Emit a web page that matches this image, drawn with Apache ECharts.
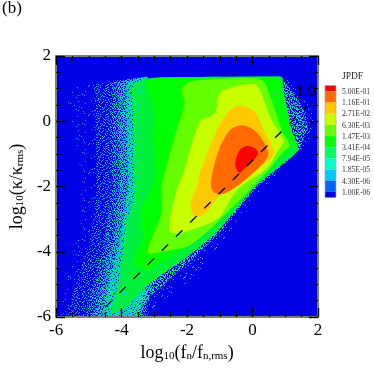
<!DOCTYPE html>
<html><head><meta charset="utf-8">
<style>html,body{margin:0;padding:0;background:#fff}#c{width:374px;height:374px}</style>
<script src="https://cdn.jsdelivr.net/npm/echarts@6/dist/echarts.min.js"></script></head>
<body><div id="c"></div>
<script>
const legendTitle='JPDF';
const legendLabels=['5.00E-01','1.16E-01','2.71E-02','6.30E-03','1.47E-03','3.41E-04','7.94E-05','1.85E-05','4.30E-06','1.00E-06'];
const legendColors=['#ff0000','#ff6a00','#ffc800','#c8ff00','#64ff00','#00ff00','#00ff64','#00ffc8','#00c8ff','#0064ff','#0000e6'];
const band1=[[-5.7,1.0],[-4.8,1.2],[-3.9,1.3],[-3.2,1.37],[-3,-1],[-3,-4],[-3.1,-6],[-5.95,-6],[-5.6,-4.6],[-5.2,-3],[-5.3,-1],[-5.6,0.4]];
const band2=[[-4.85,1.12],[-3.9,1.3],[-3.2,1.37],[-3,-1],[-3,-4],[-3.2,-6],[-5.7,-6],[-5.4,-5],[-4.95,-3.6],[-4.75,-2],[-4.8,0]];
const band3=[[-4.3,1.2],[-3.6,1.3],[-3.2,1.37],[-3,-1],[-3,-4],[-3.3,-6],[-5.1,-6],[-4.85,-5],[-4.5,-3.6],[-4.3,-2],[-4.35,0]];
const band4=[[-4.1,1.22],[-3.6,1.32],[-3.2,1.37],[-3,-1],[-3,-4],[-3.4,-6],[-4.85,-6],[-4.6,-5],[-4.25,-3.6],[-4.05,-2],[-4.1,0]];
const band5=[[-3.85,1.2],[-3.5,1.32],[-3.2,1.37],[-3,-1],[-3,-4],[-3.5,-6],[-4.6,-6],[-4.4,-5],[-4.05,-3.6],[-3.8,-2],[-3.85,0]];
const fringeOuter=[[0.7,1.36],[1.1,1.3],[1.45,0.9],[1.8,0.35],[1.95,-0.2],[1.6,-0.75],[1.41,-0.95],[0.07,-2.3],[-1.0,-3.9],[-1.9,-4.85],[-3.0,-5.7],[-3.4,-6],[-4,-5],[-2,0],[0,1.3]];
const fringeInner=[[0.85,1.36],[1.25,0.9],[1.55,0.4],[1.7,-0.2],[1.5,-0.7],[1.41,-0.92],[0.07,-2.08],[-1.03,-3.45],[-1.92,-4.3],[-3.1,-5.35],[-3.5,-5.85],[-4,-5],[-2,0],[0,1.3]];
const level6=[[-3.66,1.06],[-3.05,1.33],[-1.5,1.36],[0.5,1.37],[0.9,1.36],[0.95,0.9],[1.05,0.43],[1.27,-0.58],[1.41,-0.88],[0.07,-2.02],[-1.03,-3.34],[-1.92,-4.1],[-3.3,-5.1],[-3.8,-5.64],[-4.3,-5.9],[-4.1,-5.0],[-3.96,-4.05],[-3.85,-3.13],[-3.62,-2.33],[-3.62,-0.98],[-3.62,0.25]];
const band6=[[-3.66,1.06],[-3.4,1.2],[-3.42,-2],[-3.6,-3.6],[-3.8,-5.0],[-3.8,-5.64],[-4.3,-5.9],[-4.1,-5.0],[-3.96,-4.05],[-3.85,-3.13],[-3.62,-2.33],[-3.62,-0.98],[-3.62,0.25]];
const level5=[[-3.24,1.26],[-2.4,1.33],[-1,1.35],[0.68,1.36],[0.83,1.26],[0.92,0.9],[1.02,0.3],[1.2,-0.3],[1.35,-0.73],[1.05,-0.92],[0.49,-1.44],[0.07,-1.95],[-1.1,-3.13],[-2.32,-4.05],[-3.24,-4.56],[-3.66,-4.35],[-3.35,-3.64],[-3.39,-2.72],[-2.99,-1.8],[-3.05,-0.48],[-2.99,0.25]];
const level4=[[-2.17,0.96],[-1.9,1.22],[-0.69,1.32],[0.12,1.32],[0.38,1.17],[0.58,0.65],[0.93,-0.36],[1.14,-0.73],[0.9,-0.98],[0.44,-1.55],[-1.05,-3.08],[-1.92,-3.8],[-2.74,-4.0],[-3.19,-4.05],[-3.14,-3.74],[-2.78,-2.82],[-2.78,-2.11],[-2.74,-1.8],[-2.38,-0.48],[-2.07,0.55]];
const level3=[[-0.49,1.08],[0.07,1.14],[0.27,0.86],[0.55,0.1],[0.9,-0.5],[0.95,-0.63],[0.75,-0.94],[0.44,-1.44],[-0.48,-2.11],[-1.05,-2.98],[-2.22,-3.43],[-2.53,-3.39],[-2.53,-3.03],[-2.47,-2.72],[-2.31,-2.1],[-2.12,-1.6],[-1.61,-0.02],[-1.15,0.24],[-1,0.86]];
const level2=[[-0.29,0.47],[0.07,0.29],[0.37,-0.32],[0.66,-0.98],[0.44,-1.24],[-0.33,-1.74],[-0.99,-2.26],[-1.4,-2.78],[-1.76,-2.95],[-1.89,-2.51],[-1.7,-2.0],[-1.61,-1.59],[-1.0,-0.1],[-0.6,0.41]];
const level1=[[-0.34,-0.12],[0.02,-0.25],[0.27,-0.52],[0.48,-0.98],[0.37,-1.24],[-0.08,-1.68],[-0.49,-2.01],[-0.9,-2.23],[-1.2,-2.16],[-1.27,-1.85],[-1.05,-0.94],[-0.69,-0.27]];
const level0=[[-0.18,-0.76],[0.07,-0.83],[0.17,-0.98],[0.02,-1.21],[-0.24,-1.44],[-0.39,-1.58],[-0.52,-1.41],[-0.51,-1.19],[-0.39,-0.88]];
const dashLine=[[-4.5,-5.7],[1.65,0.45]];

/* hand-typed speckle texture: a digit picks which density layer paints that pixel */
const speckleTile=['3718294056273910846152739048162','9046158273640192758361047295831','2573901648175320964828157403962','6180427395908146237509372816405','1794350862341970582614603928175','5208716943067254193870241596380','8461039275819603472951786304129','0937562148450291876302915748063','7325184690926437015868040273591','4690273518103752849166529381704','1852946037768104325972840615239','6073815294239586710430197264858','9248607135054921367816375092481','3516094827681370952449268137506','8702451963125849036720543981627','2964780351497012683585916042739','5139263804736295418061704853192','0487915632981506274393628170945','7621340958240873169514095726381','4853026179563149802762831954076','1296587430819625347080473619528','9370148265042781956336195082647','6548723091375908214687260341895','2015396847694132085729854706213','8734061529108567432940316258970','3169852470526394718051687093424','5980217634873240951678042591367','0426739185469118305287593460812','7851604293230576849414726809153'];
function speckle(digits,color){
  const cv=document.createElement('canvas'); cv.width=31; cv.height=29;
  const g=cv.getContext('2d'); g.fillStyle=color;
  speckleTile.forEach((row,r)=>{ for(let c=0;c<31;c++){ if(digits.includes(row[c])&&(digits.length>1||(r+c)%3===0)) g.fillRect(c,r,1,1);} });
  return {image:cv,repeat:'repeat'};
}
const serif='"Liberation Serif","Times New Roman",serif';
const chart=echarts.init(document.getElementById('c'),null,{renderer:'canvas'});
function region(arr,fill,z,smooth){return {type:'custom',coordinateSystem:'cartesian2d',z,silent:true,clip:true,
  data:arr,encode:{x:0,y:1},
  renderItem:(p,api)=>{ if(p.dataIndex!==0) return null;
    return {type:'polygon',shape:{points:arr.map(q=>api.coord(q)),smooth:smooth||0},style:{fill}};}};}
function axis(pos,show){return {type:'value',position:pos,min:-6,max:2,interval:2,z:10,
  axisLine:{show:true,onZero:false,lineStyle:{color:'#7d7d7d',width:2}},
  axisTick:{show:true,inside:true,length:9,lineStyle:{color:'#000',width:1.4}},
  minorTick:{show:true,splitNumber:4,length:5,lineStyle:{color:'#000',width:1.2}},
  splitLine:{show:false},
  axisLabel:show?{show:true,fontFamily:serif,fontSize:17,color:'#000',margin:5,showMinLabel:true,showMaxLabel:true}:{show:false}};}
const sub={fontFamily:serif,fontSize:11,color:'#000',padding:[7,0,0,0]};
const main={fontFamily:serif,fontSize:18,color:'#000'};
const xA=axis('bottom',true); Object.assign(xA,{name:'{m|log}{s|10}{m|(f}{s|n}{m|/f}{s|n,rms}{m|)}',nameLocation:'middle',nameGap:26,nameTextStyle:{rich:{m:main,s:sub}}});
const yA=axis('left',true); Object.assign(yA,{name:'{m|log}{s|10}{m|(κ/κ}{s|rms}{m|)}',nameLocation:'middle',nameGap:26,nameTextStyle:{rich:{m:main,s:sub}}});
const gfx=[
 {type:'text',left:2,top:0,style:{text:'(b)',font:'17px '+serif,fill:'#000'}},
 {type:'text',left:296,top:84,z:30,style:{text:'1.0',font:'16px '+serif,fill:'#000'}},
 {type:'text',left:342,top:71,style:{text:legendTitle,font:'9.5px '+serif,fill:'#222'}}
];
const top0=85.5,h=11.15;
legendColors.forEach((c,i)=>{
  const y0=i===0?top0:top0+6+(i-1)*h, hh=i===0?6:(i===10?6:h);
  gfx.push({type:'rect',shape:{x:325,y:y0,width:11,height:hh},style:{fill:c}});
});
gfx.push({type:'rect',shape:{x:325,y:top0,width:11,height:112},style:{fill:'none',stroke:'#aaa',lineWidth:0.7}});
legendLabels.forEach((t,i)=>{
  gfx.push({type:'text',left:342,top:88+i*11.2,style:{text:t,font:'7.6px '+serif,fill:'#333'}});
});
chart.setOption({animation:false,backgroundColor:'#fff',
 grid:{left:56,right:56,top:56,bottom:57,show:true,backgroundColor:'#0000e6',borderWidth:0},
 xAxis:[xA,axis('top',false)],
 yAxis:[yA,axis('right',false)],
 graphic:gfx,
 series:[
  region(band1,speckle('0','#00b4d8'),1),
  region(fringeOuter,speckle('9','#00c8e0'),1),
  region(band2,speckle('01','#00b4d8'),1),
  region(band3,speckle('23','#00c8c8'),1),
  region(band4,speckle('45','#00d8a8'),1),
  region(band5,speckle('678','#00e878'),1),
  region(fringeInner,speckle('1456','#00e0a0'),1),
  region(level6,'#00f038',2,0.2),
  region(band6,speckle('27','#00e480'),2),
  region(level5,'#00ff00',2,0.2),
  region(level4,'#64ff00',2,0.25),
  region(level3,'#c8ff00',2,0.25),
  region(level2,'#ffc800',2,0.3),
  region(level1,'#ff6a00',2,0.3),
  region(level0,'#ff0000',2,0.3),
  {type:'line',data:dashLine,z:5,silent:true,symbol:'none',lineStyle:{color:'#000',width:1.3,type:[9,11]}}
 ]});
</script></body></html>
